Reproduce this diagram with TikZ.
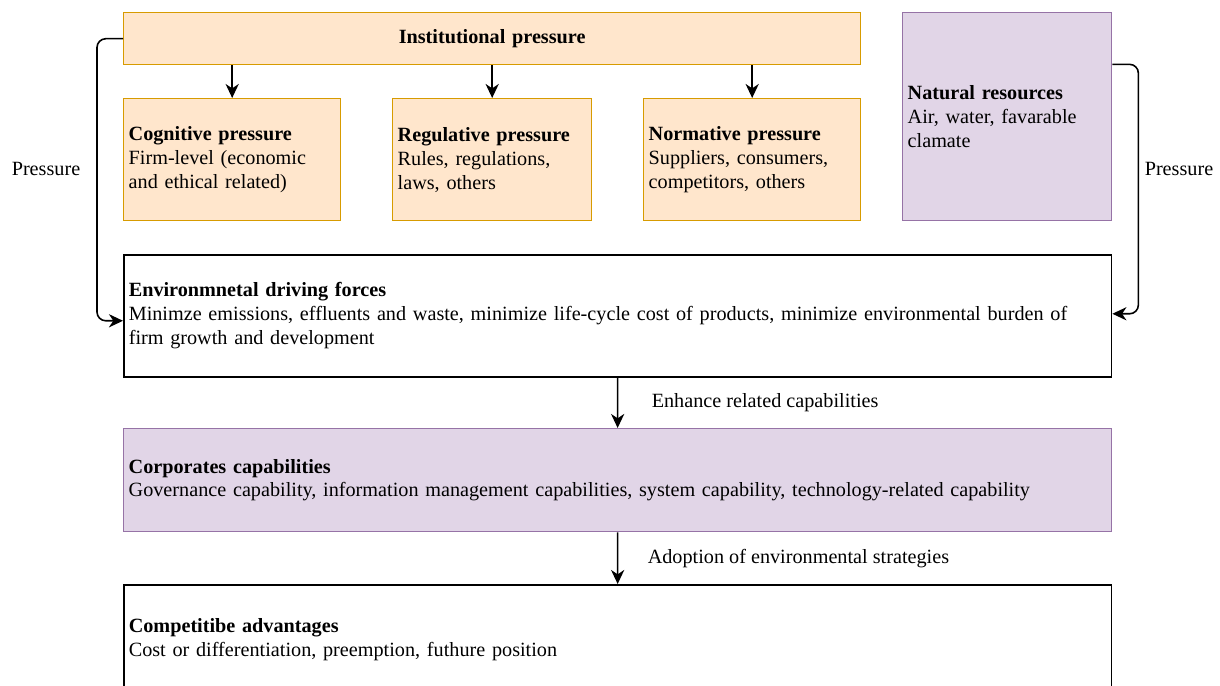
\documentclass[tikz,border=0pt]{standalone}
\usepackage{fontspec}
\setmainfont{Liberation Serif}
\usetikzlibrary{arrows.meta,calc,positioning}

\definecolor{orangefill}{HTML}{FFE6CC}
\definecolor{orangeline}{HTML}{D79B00}
\definecolor{purplefill}{HTML}{E1D5E7}
\definecolor{purpleline}{HTML}{9673A6}

\tikzset{
	txt/.style={font=\fontsize{11.5pt}{13.6pt}\selectfont},
	box/.style={txt, rectangle, anchor=north west, align=left, inner xsep=0.1cm, inner ysep=0pt, line width=0.8pt},
	orangebox/.style={box, draw=orangeline, fill=orangefill},
	purplebox/.style={box, draw=purpleline, fill=purplefill},
	plainbox/.style={box, draw=black, line width=0.9pt},
	arr/.style={-{Stealth[length=8pt,width=7.5pt,inset=2.5pt]}, line width=0.9pt},
}

\begin{document}
\begin{tikzpicture}[x=0.02cm,y=-0.02cm]
			\useasboundingbox (0,0) rectangle (1220,686);
			\path
			(123,12) coordinate (I)
			(123,98) coordinate (C)
			(392,98) coordinate (R)
			(643,98) coordinate (N)
			(902,12) coordinate (Nat)
			(123,254) coordinate (E)
			(123,428) coordinate (Cc)
			(123,584) coordinate (Ca)
			;
			% top row
			\node[orangebox, align=center, text width=14.54cm, minimum height=1.04cm] (inst) at (I) {\textbf{Institutional pressure}};
			\node[orangebox, text width=4.14cm, minimum height=2.44cm] (cog) at (C) {\textbf{Cognitive pressure}\\Firm-level (economic\\and ethical related)};
			\node[orangebox, text width=3.78cm, minimum height=2.44cm] (reg) at (R) {\textbf{Regulative pressure}\\Rules, regulations,\\laws, others};
			\node[orangebox, text width=4.14cm, minimum height=2.44cm] (norm) at (N) {\textbf{Normative pressure}\\Suppliers, consumers,\\competitors, others};
			\node[purplebox, text width=3.98cm, minimum height=4.16cm] (nat) at (Nat) {\textbf{Natural resources}\\Air, water, favarable\\clamate};
			% lower boxes
			\node[plainbox, text width=19.56cm, minimum height=2.44cm] (env) at (E) {\textbf{Environmnetal driving forces}\\Minimze emissions, effluents and waste, minimize life-cycle cost of products, minimize environmental burden of\\firm growth and development};
			\node[purplebox, text width=19.56cm, minimum height=2.06cm] (corp) at (Cc) {\textbf{Corporates capabilities}\\Governance capability, information management capabilities, system capability, technology-related capability};
			\node[plainbox, text width=19.56cm, minimum height=2.2cm] (comp) at (Ca) {\textbf{Competitibe advantages}\\Cost or differentiation, preemption, futhure position};
			% connectors
			\foreach \x in {cog,reg,norm} \draw[arr] (\x.north |- inst.south) -- (\x.north);
			\coordinate (natout) at ($(nat.north east)!0.25!(nat.south east)$);
			\draw[arr, rounded corners=5pt] (inst.west) -- ++(-26,0) |- ($(env.west)+(0,5)$);
			\draw[arr, rounded corners=5pt] (natout) -- ++(26,0) |- ($(env.east)+(0,-2)$);
			\node[txt] (pl) at (46,169) {Pressure};
			\node[txt] (pr) at (1179,169) {Pressure};
			\draw[arr] (env) -- node[txt, midway, right=0.55cm] (enh) {Enhance related capabilities} (corp);
			\draw[arr] (corp) -- node[txt, midway, right=0.47cm] (adopt) {Adoption of environmental strategies} (comp);
		\end{tikzpicture}
\end{document}
